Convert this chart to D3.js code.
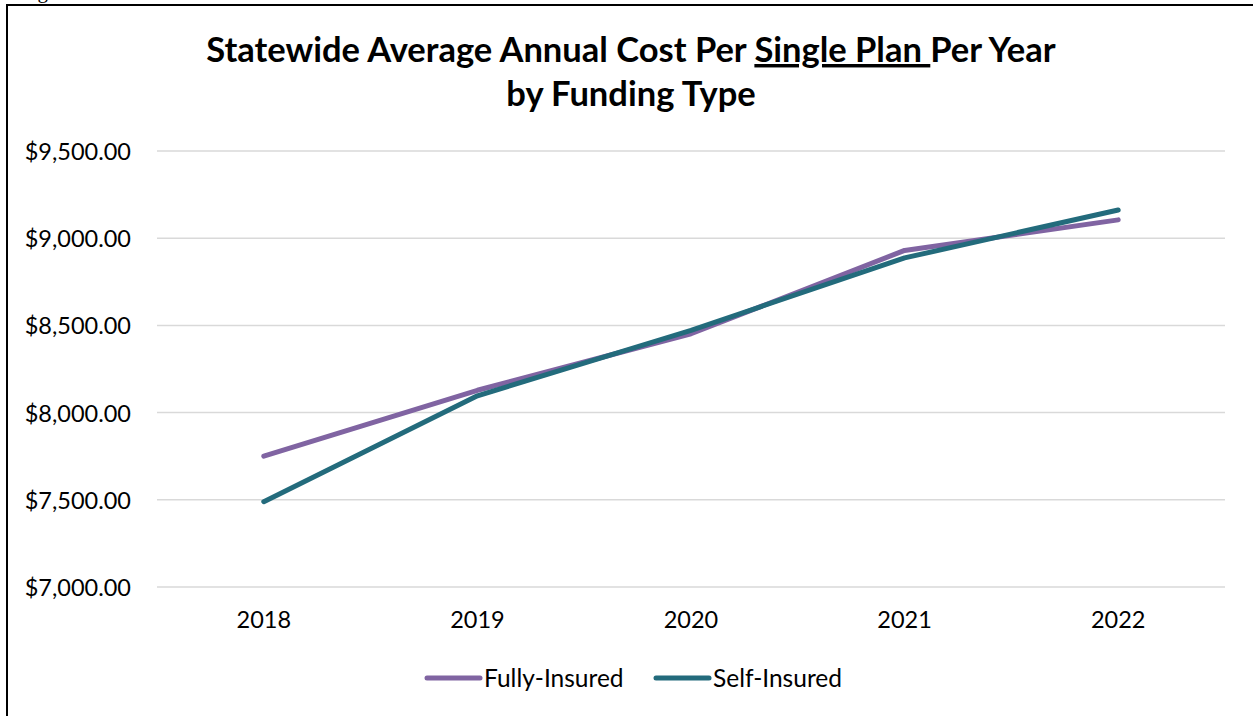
<!DOCTYPE html>
<meta charset="utf-8">
<style>
body { margin: 0; background: #fff; }
svg { display: block; font-family: Lato, "Open Sans", sans-serif; }
.grid line { stroke: #d9d9d9; stroke-width: 1.5px; }
.axis text { fill: #000; font-size: 23.5px; font-family: Lato, "Open Sans", sans-serif; }
.series { fill: none; stroke-width: 5px; stroke-linecap: round; stroke-linejoin: round; }
.title { font-weight: bold; font-size: 34.5px; fill: #000; }
.legend text { font-size: 24.5px; fill: #000; }
</style>
<body>
<script src="https://cdn.jsdelivr.net/npm/d3@7"></script>
<script>
var width = 1253,
    height = 716;

// data
var years = ["2018", "2019", "2020", "2021", "2022"];
var fullyInsured = [7750, 8128, 8452, 8930, 9105];
var selfInsured = [7489, 8096, 8472, 8887, 9162];
var yTicks = [7000, 7500, 8000, 8500, 9000, 9500];
var seriesNames = ["Fully-Insured", "Self-Insured"];
var colors = ["#8064a2", "#236b7c"];

var margin = {left: 157, right: 28, top: 151, bottom: 129};

var svg = d3.select("body").append("svg")
    .attr("width", width)
    .attr("height", height);

// outer frame (runs off the right / bottom edge)
svg.append("rect")
    .attr("x", 7).attr("y", 5)
    .attr("width", 1300).attr("height", 800)
    .attr("fill", "none")
    .attr("stroke", "#000")
    .attr("stroke-width", 2);

// clipped caption from the page above
svg.append("text")
    .attr("x", 20).attr("y", -2)
    .style("font-family", "'Liberation Serif', serif")
    .style("font-size", "21px")
    .text("Figure");

var x = d3.scaleBand()
    .domain(years)
    .range([margin.left, width - margin.right]);

var y = d3.scaleLinear()
    .domain([7000, 9500])
    .range([height - margin.bottom, margin.top]);

// gridlines
svg.append("g").attr("class", "grid")
  .selectAll("line")
  .data(yTicks)
  .join("line")
    .attr("x1", margin.left)
    .attr("x2", width - margin.right)
    .attr("y1", function(d) { return y(d); })
    .attr("y2", function(d) { return y(d); });

var fmt = d3.format("$,.2f");

var yAxis = svg.append("g").attr("class", "axis")
    .attr("transform", "translate(" + (margin.left - 26) + ",0)")
    .call(d3.axisLeft(y).tickValues(yTicks).tickFormat(fmt).tickSize(0).tickPadding(0));
yAxis.attr("font-family", null).attr("font-size", null);
yAxis.select(".domain").remove();
yAxis.selectAll("text").attr("dy", "0.36em");

var xAxis = svg.append("g").attr("class", "axis")
    .attr("transform", "translate(0," + (height - margin.bottom) + ")")
    .call(d3.axisBottom(x).tickSize(0).tickPadding(24));
xAxis.attr("font-family", null).attr("font-size", null);
xAxis.select(".domain").remove();

var line = d3.line()
    .x(function(d, i) { return x(years[i]) + x.bandwidth() / 2; })
    .y(function(d) { return y(d); });

[fullyInsured, selfInsured].forEach(function(s, i) {
  svg.append("path")
      .datum(s)
      .attr("class", "series")
      .attr("stroke", colors[i])
      .attr("d", line);
});

// title
var title = svg.append("text")
    .attr("class", "title")
    .attr("text-anchor", "middle")
    .attr("x", 631).attr("y", 62);
title.append("tspan").text("Statewide Average Annual Cost Per ");
title.append("tspan").style("text-decoration", "underline").text("Single Plan ");
title.append("tspan").text("Per Year");

svg.append("text")
    .attr("class", "title")
    .attr("text-anchor", "middle")
    .attr("x", 631).attr("y", 106)
    .text("by Funding Type");

// legend
var legendX = [427, 656];
var legend = svg.append("g").attr("class", "legend");
seriesNames.forEach(function(name, i) {
  legend.append("line")
      .attr("x1", legendX[i]).attr("x2", legendX[i] + 53)
      .attr("y1", 678).attr("y2", 678)
      .attr("stroke", colors[i])
      .attr("stroke-width", 5)
      .attr("stroke-linecap", "round");
  legend.append("text")
      .attr("x", legendX[i] + 57)
      .attr("y", 678)
      .attr("dy", "0.36em")
      .text(name);
});
</script>
